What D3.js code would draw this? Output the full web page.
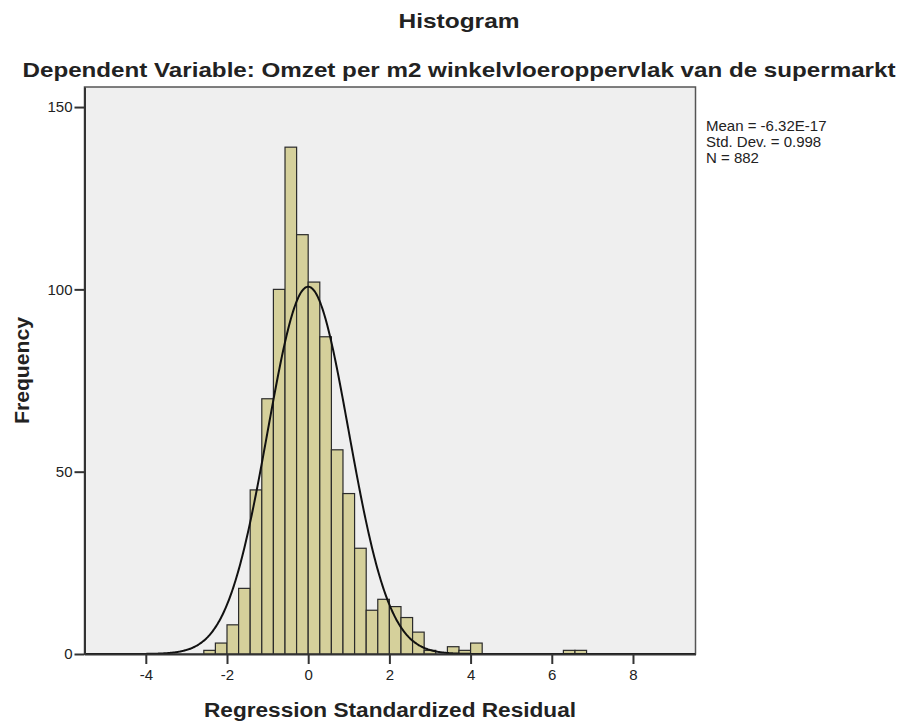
<!DOCTYPE html>
<html>
<head>
<meta charset="utf-8">
<script src="https://cdn.jsdelivr.net/npm/d3@7"></script>
<style>
  body { margin: 0; background: #fff; }
  svg text { font-family: Arial, "Liberation Sans", sans-serif; fill: #222; }
</style>
</head>
<body>
<div id="container"></div>
<script>
// Data
const binStarts = [-2.571, -2.286, -2.0, -1.714, -1.429, -1.143, -0.857, -0.571, -0.286,
  0.0, 0.286, 0.571, 0.857, 1.143, 1.429, 1.714, 2.0, 2.286, 2.571, 2.857,
  3.429, 3.714, 4.0, 6.286, 6.571];
const counts = [1, 3, 8, 18, 45, 70, 100, 139, 115,
  102, 87, 56, 44, 29, 12, 15, 13, 10, 6, 1,
  2, 1, 3, 1, 1];
const binWidth = 2 / 7;
const xTicks = [-4, -2, 0, 2, 4, 6, 8];
const yTicks = [0, 50, 100, 150];
const statsMean = -6.32e-17;
const statsSd = 0.998;
const statsN = 882;
const statsLines = ['Mean = -6.32E-17', 'Std. Dev. = 0.998', 'N = 882'];

const svgWidth = 902;
const svgHeight = 724;
const plotLeft = 84.5;
const plotRight = 695.5;
const plotTop = 87;
const plotBottom = 654;

const svg = d3
  .select('#container')
  .append('svg')
  .attr('width', svgWidth)
  .attr('height', svgHeight);

const xScale = d3.scaleLinear().domain([-5.51, 9.54]).range([plotLeft, plotRight]);
const yScale = d3.scaleLinear().domain([0, 155.5]).range([plotBottom, plotTop]);

// plot background
svg
  .append('rect')
  .attr('x', plotLeft)
  .attr('y', plotTop)
  .attr('width', plotRight - plotLeft)
  .attr('height', plotBottom - plotTop)
  .attr('fill', '#efefef')
  .attr('stroke', '#555')
  .attr('stroke-width', 1.5);

// Bars
svg
  .selectAll('rect.bar')
  .data(counts)
  .enter()
  .append('rect')
  .attr('class', 'bar')
  .attr('x', (d, i) => xScale(binStarts[i]))
  .attr('y', d => yScale(d))
  .attr('width', (d, i) => xScale(binStarts[i] + binWidth) - xScale(binStarts[i]))
  .attr('height', d => plotBottom - yScale(d))
  .attr('fill', '#d5d09b')
  .attr('stroke', '#2b2b2b')
  .attr('stroke-width', 1.2);

// Normal curve from the reported mean / sd / N
const curveX = d3.range(-5.51, 9.54, 0.02);
const normal = x =>
  statsN * binWidth * Math.exp(-0.5 * ((x - statsMean) / statsSd) ** 2) / (statsSd * Math.sqrt(2 * Math.PI));

const line = d3
  .line()
  .x(d => xScale(d))
  .y(d => yScale(normal(d)))
  .curve(d3.curveBasis);

svg
  .append('path')
  .datum(curveX)
  .attr('d', line)
  .attr('fill', 'none')
  .attr('stroke', '#111')
  .attr('stroke-width', 2);

// Axes
const xAxis = d3.axisBottom(xScale).tickValues(xTicks).tickSize(10).tickSizeOuter(0).tickFormat(d3.format('d'));
const yAxis = d3.axisLeft(yScale).tickValues(yTicks).tickSize(10).tickSizeOuter(0);

const gx = svg
  .append('g')
  .attr('transform', `translate(0,${plotBottom})`)
  .call(xAxis);
gx.select('.domain').attr('stroke', '#333').attr('stroke-width', 2);
gx.selectAll('.tick line').attr('stroke', '#333').attr('stroke-width', 2);
gx.selectAll('.tick text').attr('font-size', 15).attr('dy', '0.85em').attr('fill', '#222')
  .text(d => (d < 0 ? '-' + Math.abs(d) : d));

const gy = svg
  .append('g')
  .attr('transform', `translate(${plotLeft},0)`)
  .call(yAxis);
gy.select('.domain').attr('stroke', '#333').attr('stroke-width', 2);
gy.selectAll('.tick line').attr('stroke', '#333').attr('stroke-width', 2);
gy.selectAll('.tick text').attr('font-size', 15).attr('x', -12).attr('fill', '#222');

// Titles
svg
  .append('text')
  .attr('x', 459)
  .attr('y', 28)
  .attr('text-anchor', 'middle')
  .attr('font-size', 21)
  .attr('font-weight', 'bold')
  .attr('textLength', 121)
  .attr('lengthAdjust', 'spacingAndGlyphs')
  .text('Histogram');

svg
  .append('text')
  .attr('x', 459)
  .attr('y', 77)
  .attr('text-anchor', 'middle')
  .attr('font-size', 21)
  .attr('font-weight', 'bold')
  .attr('textLength', 873)
  .attr('lengthAdjust', 'spacingAndGlyphs')
  .text('Dependent Variable: Omzet per m2 winkelvloeroppervlak van de supermarkt');

svg
  .append('text')
  .attr('x', (plotLeft + plotRight) / 2)
  .attr('y', 717)
  .attr('text-anchor', 'middle')
  .attr('font-size', 20)
  .attr('font-weight', 'bold')
  .attr('textLength', 372)
  .attr('lengthAdjust', 'spacingAndGlyphs')
  .text('Regression Standardized Residual');

svg
  .append('text')
  .attr('transform', `translate(29,${(plotTop + plotBottom) / 2}) rotate(-90)`)
  .attr('text-anchor', 'middle')
  .attr('font-size', 20)
  .attr('font-weight', 'bold')
  .attr('textLength', 107)
  .attr('lengthAdjust', 'spacingAndGlyphs')
  .text('Frequency');

// Stats box text
svg
  .selectAll('text.stats')
  .data(statsLines)
  .enter()
  .append('text')
  .attr('class', 'stats')
  .attr('x', 706)
  .attr('y', (d, i) => 131 + i * 16)
  .attr('font-size', 15)
  .text(d => d);
</script>
</body>
</html>
